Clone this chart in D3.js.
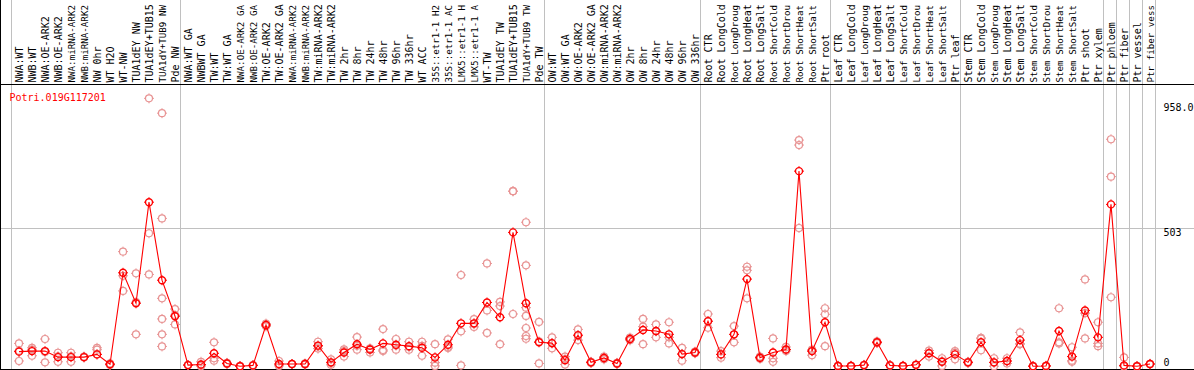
<!DOCTYPE html>
<html><head><meta charset="utf-8">
<script src="https://cdn.jsdelivr.net/npm/d3@7"></script>
<style>html,body{margin:0;padding:0;background:#fff;overflow:hidden}svg{display:block}</style>
</head><body><svg id="c" width="1194" height="370"></svg>
<script>
const title = "Potri.019G117201";
const categories = ["NWA:WT","NWB:WT","NWA:OE-ARK2","NWB:OE-ARK2","NWA:miRNA-ARK2","NWB:miRNA-ARK2","NW 0hr","WT H2O","WT-NW","TUA1dEY NW","TUA1dEY+TUB15","TUA1dY+TUB9 NW","Pde NW",
"NWA:WT GA","NWBWT GA","TW:WT","TW:WT GA","NWA:OE-ARK2 GA","NWB:OE-ARK2 GA","TW:OE-ARK2","TW:OE-ARK2 GA","NWA:miRNA-ARK2","NWB:miRNA-ARK2","TW:miRNA-ARK2","TW:miRNA-ARK2","TW 2hr","TW 8hr","TW 24hr","TW 48hr","TW 96hr","TW 336hr","WT ACC","35S::etr1-1 H2","35S::etr1-1 AC","LMX5::etr1-1 H","LMX5::etr1-1 A","WT-TW","TUA1dEY TW","TUA1dEY+TUB15","TUA1dY+TUB9 TW","Pde TW",
"OW:WT","OW:WT GA","OW:OE-ARK2","OW:OE-ARK2 GA","OW:miRNA-ARK2","OW:miRNA-ARK2","OW 2hr","OW 8hr","OW 24hr","OW 48hr","OW 96hr","OW 336hr",
"Root CTR","Root LongCold","Root LongDroug","Root LongHeat","Root LongSalt","Root ShortCold","Root ShortDrou","Root ShortHeat","Root ShortSalt","Ptr root",
"Leaf CTR","Leaf LongCold","Leaf LongDroug","Leaf LongHeat","Leaf LongSalt","Leaf ShortCold","Leaf ShortDrou","Leaf ShortHeat","Leaf ShortSalt","Ptr leaf",
"Stem CTR","Stem LongCold","Stem LongDroug","Stem LongHeat","Stem LongSalt","Stem ShortCold","Stem ShortDrou","Stem ShortHeat","Stem ShortSalt","Ptr shoot","Ptr xylem",
"Ptr phloem","Ptr fiber","Ptr vessel","Ptr fiber vess"];
const means = [53,55,55,33,33,33,43,7,340,229,597,313,182,
4,6,47,10,0,3,150,8,8,8,75,14,50,80,61,83,78,73,67,32,78,156,156,232,178,487,229,87,
84,22,113,14,30,10,99,132,128,116,44,50,
164,43,116,317,31,50,61,710,55,160,
1,1,4,87,3,1,5,47,16,43,
14,87,14,19,95,0,1,128,35,203,105,
589,3,0,8];
const replicates = [[83,56,19],[67,60,38],[99,52,14],[49,36,16],[49,36,16],[35,33,32],[67,60,43],[10,7,4],[417,329,274],[338,233,116],[975,484,334],[921,538,247,172,116,72],[208,186,152],
[4,4,4],[16,3,0],[87,29,20],[12,10,8],[0,0,0],[4,3,2],[155,150,145],[19,4,1],[8,8,8],[10,8,6],[89,72,64],[25,12,5],[61,55,35],[106,74,60],[65,61,50],[135,59,55],[99,75,60],[89,70,60],[89,74,38],[80,13,1],[98,70,66],[332,127,3],[171,154,143],[374,203,121],[234,219,80],[637,637,190],[524,367,213,183,139,110,100],[161,90,10],
[105,83,65],[35,26,6],[134,111,95],[16,14,12],[35,30,25],[12,10,8],[104,99,94],[172,144,80],[152,127,105],[160,105,83],[67,45,20],[53,50,47],
[190,163,140],[55,43,31],[146,115,87],[362,349,247],[35,31,27],[101,29,16],[70,60,55],[823,805,503],[60,55,40],[211,189,73],
[1,1,1],[1,1,1],[5,4,3],[90,87,84],[4,3,2],[1,1,1],[6,5,4],[57,49,35],[29,18,1],[55,49,25],
[16,14,12],[103,100,58],[29,13,0],[29,18,10],[123,82,80],[0,0,0],[1,1,1],[211,87,83],[69,20,16],[316,193,101],[160,83,73],
[826,690,251],[32,0,0],[0,0,0],[9,8,7]];
const groupStarts = [0,13,41,53,63,73,84,85,86,87,88];
const yTickValues = [0,503,958];
const yTickLabels = ["0","503","958.0"];
const yGridValues = [503];

const W = 1194, H = 370;
const svg = d3.select("#c");
const x = d3.scalePoint().domain(d3.range(categories.length)).range([19, 19 + 13*(categories.length-1)]);
const y = d3.scaleLinear().domain([0, 958]).range([366.2, 103]);
const step = x.step();
const FONT = "'DejaVu Sans Mono', monospace";

// vertical group gridlines
svg.append("g").selectAll("line").data(groupStarts).join("line")
  .attr("x1", b => x(0) + step*b - 7.5).attr("x2", b => x(0) + step*b - 7.5)
  .attr("y1", 0).attr("y2", H).attr("stroke", "#c0c0c0").attr("stroke-width", 1);
// horizontal gridline
svg.append("g").selectAll("line").data(yGridValues).join("line")
  .attr("x1", 0).attr("x2", W)
  .attr("y1", d => Math.round(y(d)) + 0.5).attr("y2", d => Math.round(y(d)) + 0.5)
  .attr("stroke", "#c0c0c0").attr("stroke-width", 1);

// frame lines
svg.append("line").attr("x1",0).attr("x2",W).attr("y1",84.5).attr("y2",84.5).attr("stroke","#000");
svg.append("line").attr("x1",0).attr("x2",W).attr("y1",369.5).attr("y2",369.5).attr("stroke","#000");
svg.append("line").attr("x1",0.5).attr("x2",0.5).attr("y1",0).attr("y2",H).attr("stroke","#000");

// category labels (rotated, reading upward from just above the frame)
const LABEL_BASE = 82.5;
svg.append("g").selectAll("text").data(categories).join("text")
  .attr("transform", (d,i) => `translate(${x(i)+3.5},${LABEL_BASE}) rotate(-90)`)
  .attr("font-family", FONT).attr("font-size", d => d.length > 13 ? 9.2 : 10).attr("fill", "#000")
  .text(d => d);

// y tick labels
svg.append("g").selectAll("text").data(yTickValues).join("text")
  .attr("x", 1163.5).attr("y", d => Math.min(y(d) + 7.5, 366))
  .attr("font-family", FONT).attr("font-size", 10).attr("fill", "#000")
  .text((d,i) => yTickLabels[i]);

// title
svg.append("text").attr("x", 9.5).attr("y", 100.5)
  .attr("font-family", FONT).attr("font-size", 10).attr("fill", "#ff0000").text(title);

function marker(g, color, fill, sw) {
  g.append("circle").attr("r", 3.5).attr("fill", fill).attr("stroke", color).attr("stroke-width", sw);
  [[0,-1],[0,1],[-1,0],[1,0]].forEach(([dx,dy]) => {
    g.append("line").attr("x1", dx*3.5).attr("y1", dy*3.5).attr("x2", dx*5).attr("y2", dy*5)
      .attr("stroke", color).attr("stroke-width", 1);
  });
}

// replicate points
const repData = [];
replicates.forEach((arr, i) => arr.forEach(v => repData.push({i, v})));
svg.append("g").selectAll("g").data(repData).join("g")
  .attr("transform", d => `translate(${x(d.i)},${y(d.v)})`)
  .each(function() { marker(d3.select(this), "#e89494", "none", 1.2); });

// mean line
svg.append("path").datum(means)
  .attr("d", d3.line().x((d,i) => x(i)).y(d => y(d)))
  .attr("fill", "none").attr("stroke", "#ff0000").attr("stroke-width", 1.1);

// mean points
svg.append("g").selectAll("g").data(means).join("g")
  .attr("transform", (d,i) => `translate(${x(i)},${y(d)})`)
  .each(function() { marker(d3.select(this), "#ff0000", "none", 1.4); });
</script></body></html>
